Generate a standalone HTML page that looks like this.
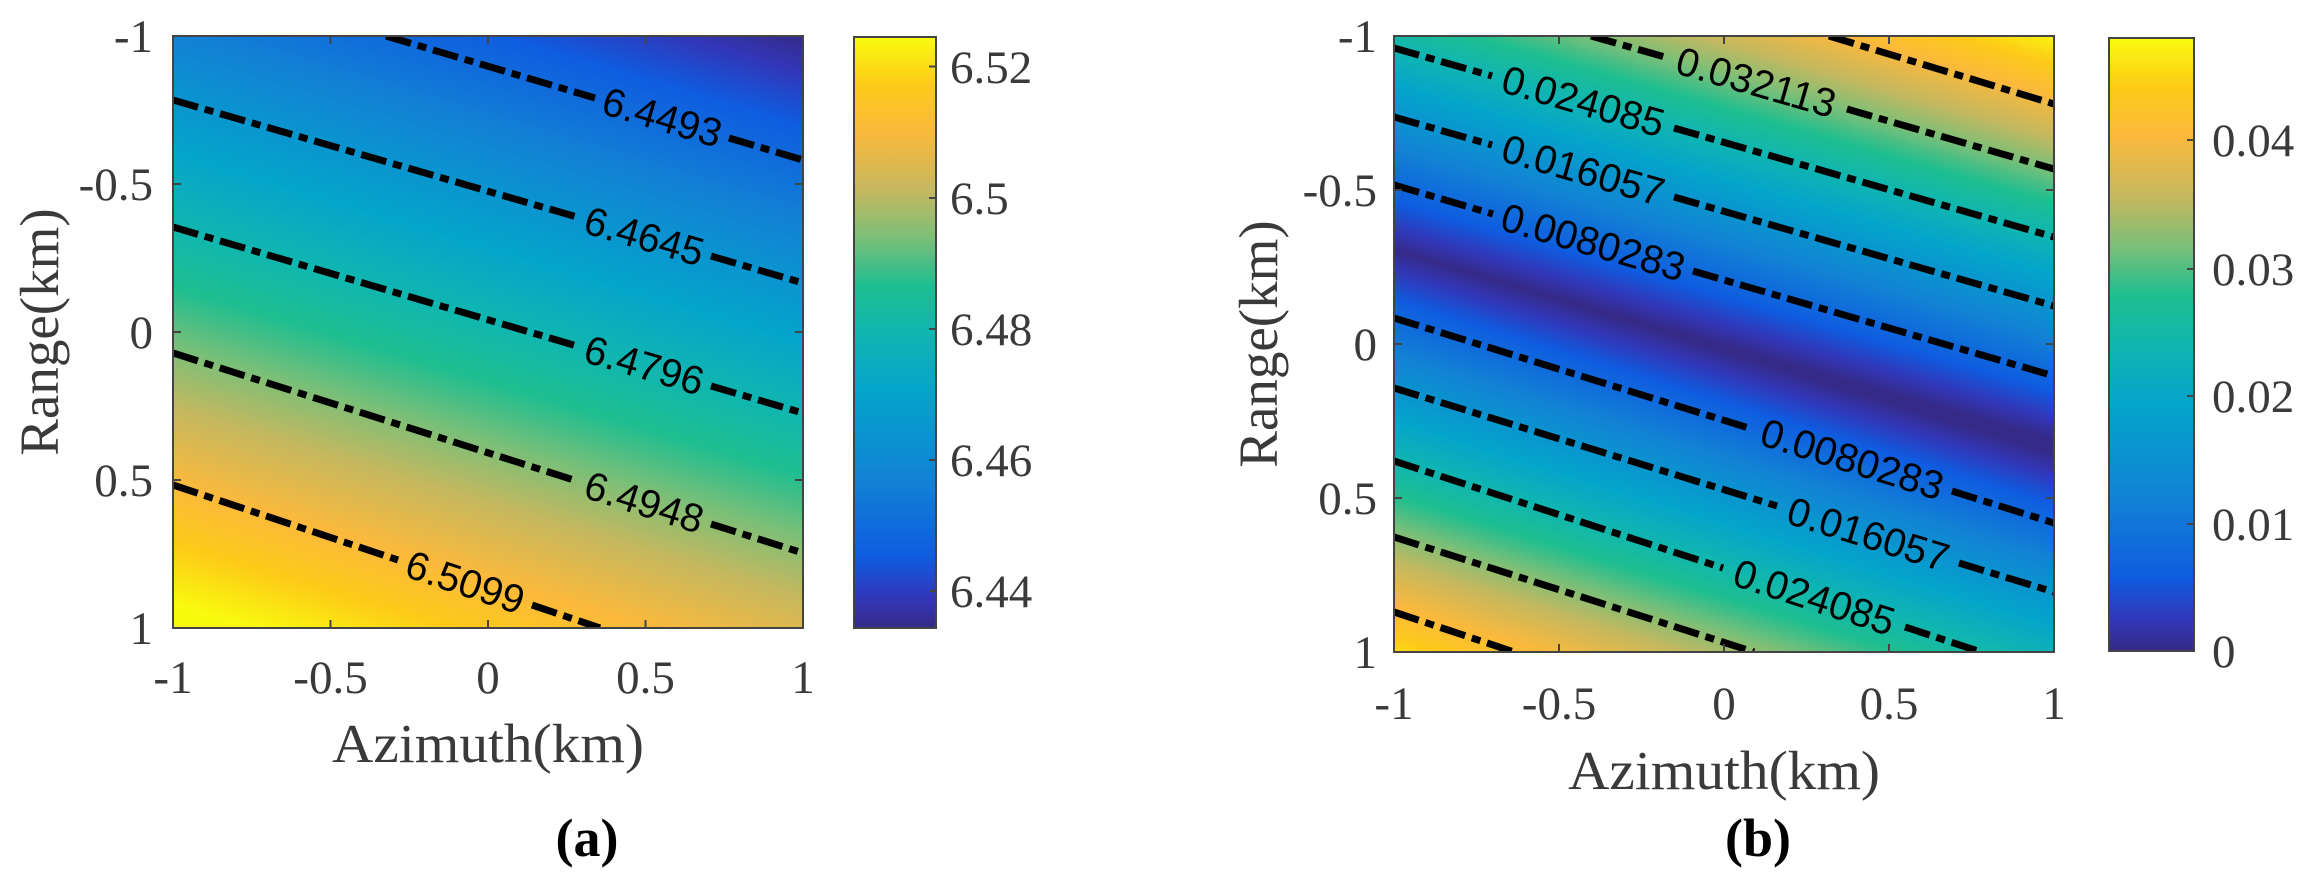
<!DOCTYPE html>
<html><head><meta charset="utf-8"><style>
html,body{margin:0;padding:0;background:#fff;}
svg{display:block;}
.t{font-family:"Liberation Serif",serif;font-size:47px;fill:#3a3a3a;}
.al{font-family:"Liberation Serif",serif;font-size:55px;fill:#3a3a3a;}
.cl{font-family:"Liberation Sans",sans-serif;font-size:40px;fill:#000;}
.cap{font-family:"Liberation Serif",serif;font-size:54px;font-weight:bold;fill:#000;}
.c{stroke:#000;stroke-width:7;fill:none;stroke-dasharray:26 7 9 7;}
.fr{fill:none;stroke:#444;stroke-width:2;}
.tk{stroke:#444;stroke-width:2;}
</style></head><body>
<svg width="2307" height="887" viewBox="0 0 2307 887" xmlns="http://www.w3.org/2000/svg">
<defs>
<linearGradient id="ga" gradientUnits="userSpaceOnUse" x1="173" y1="-154" x2="-36" y2="543">
<stop offset="0" stop-color="#352a87"/><stop offset="0.05" stop-color="#3236b8"/><stop offset="0.12" stop-color="#0f5ce0"/><stop offset="0.25" stop-color="#1282d4"/><stop offset="0.40" stop-color="#04a4cb"/><stop offset="0.50" stop-color="#10b6b0"/><stop offset="0.58" stop-color="#1ebe90"/><stop offset="0.66" stop-color="#7bbf78"/><stop offset="0.74" stop-color="#c5b85f"/><stop offset="0.84" stop-color="#fbb93c"/><stop offset="0.92" stop-color="#fdcb18"/><stop offset="1" stop-color="#f9fb0e"/>
</linearGradient>
<linearGradient id="gbu" gradientUnits="userSpaceOnUse" x1="1394" y1="251" x2="1502.6" y2="-127.4">
<stop offset="0" stop-color="#352a87"/><stop offset="0.05" stop-color="#3236b8"/><stop offset="0.12" stop-color="#0f5ce0"/><stop offset="0.25" stop-color="#1282d4"/><stop offset="0.40" stop-color="#04a4cb"/><stop offset="0.50" stop-color="#10b6b0"/><stop offset="0.58" stop-color="#1ebe90"/><stop offset="0.66" stop-color="#7bbf78"/><stop offset="0.74" stop-color="#c5b85f"/><stop offset="0.84" stop-color="#fbb93c"/><stop offset="0.92" stop-color="#fdcb18"/><stop offset="1" stop-color="#f9fb0e"/>
</linearGradient>
<linearGradient id="gbl" gradientUnits="userSpaceOnUse" x1="1394" y1="249" x2="1273.9" y2="636.5">
<stop offset="0" stop-color="#352a87"/><stop offset="0.05" stop-color="#3236b8"/><stop offset="0.12" stop-color="#0f5ce0"/><stop offset="0.25" stop-color="#1282d4"/><stop offset="0.40" stop-color="#04a4cb"/><stop offset="0.50" stop-color="#10b6b0"/><stop offset="0.58" stop-color="#1ebe90"/><stop offset="0.66" stop-color="#7bbf78"/><stop offset="0.74" stop-color="#c5b85f"/><stop offset="0.84" stop-color="#fbb93c"/><stop offset="0.92" stop-color="#fdcb18"/><stop offset="1" stop-color="#f9fb0e"/>
</linearGradient>
<linearGradient id="gc" x1="0" y1="1" x2="0" y2="0">
<stop offset="0" stop-color="#352a87"/><stop offset="0.05" stop-color="#3236b8"/><stop offset="0.12" stop-color="#0f5ce0"/><stop offset="0.25" stop-color="#1282d4"/><stop offset="0.40" stop-color="#04a4cb"/><stop offset="0.50" stop-color="#10b6b0"/><stop offset="0.58" stop-color="#1ebe90"/><stop offset="0.66" stop-color="#7bbf78"/><stop offset="0.74" stop-color="#c5b85f"/><stop offset="0.84" stop-color="#fbb93c"/><stop offset="0.92" stop-color="#fdcb18"/><stop offset="1" stop-color="#f9fb0e"/>
</linearGradient>
<clipPath id="ca"><rect x="173" y="36" width="630" height="592"/></clipPath>
<clipPath id="cb"><rect x="1394" y="36" width="660" height="616"/></clipPath>
</defs>

<!-- Panel a -->
<rect x="173" y="36" width="630" height="592" fill="url(#ga)"/>
<g clip-path="url(#ca)">
<path class="c" d="M386,36L595,98M729,138L803,160"/>
<path class="c" d="M173,100L577,217M711,256L803,283"/>
<path class="c" d="M173,227L577,346M711,386L803,413"/>
<path class="c" d="M173,353L577,481M711,524L803,553"/>
<path class="c" d="M173,485L398,560M532,605L600,628"/>
</g>
<g class="cl" text-anchor="middle" dominant-baseline="central">
<text transform="translate(662,118) rotate(16.5)">6.4493</text>
<text transform="translate(644,237) rotate(16.2)">6.4645</text>
<text transform="translate(644,366) rotate(16.4)">6.4796</text>
<text transform="translate(644,503) rotate(17.6)">6.4948</text>
<text transform="translate(465,583) rotate(18.5)">6.5099</text>
</g>
<rect class="fr" x="173" y="36" width="630" height="592"/>
<path class="tk" d="M330.5,628v-8M488,628v-8M645.5,628v-8M330.5,36v8M488,36v8M645.5,36v8M173,184h8M173,332h8M173,480h8M803,184h-8M803,332h-8M803,480h-8"/>
<g class="t" text-anchor="end">
<text x="153" y="52">-1</text><text x="153" y="200">-0.5</text><text x="153" y="348">0</text><text x="153" y="496">0.5</text><text x="153" y="644">1</text>
</g>
<g class="t" text-anchor="middle">
<text x="173" y="693">-1</text><text x="330.5" y="693">-0.5</text><text x="488" y="693">0</text><text x="645.5" y="693">0.5</text><text x="803" y="693">1</text>
</g>
<text class="al" x="488" y="762" text-anchor="middle" textLength="312" lengthAdjust="spacingAndGlyphs">Azimuth(km)</text>
<text class="al" transform="translate(58,332) rotate(-90)" text-anchor="middle">Range(km)</text>
<rect x="854" y="37" width="82" height="591" fill="url(#gc)"/>
<rect class="fr" x="854" y="37" width="82" height="591"/>
<path class="tk" d="M936,66.5h-7M936,198h-7M936,329h-7M936,460h-7M936,591h-7"/>
<g class="t">
<text x="950" y="83">6.52</text><text x="950" y="214">6.5</text><text x="950" y="345">6.48</text><text x="950" y="476">6.46</text><text x="950" y="607">6.44</text>
</g>
<text class="cap" x="587" y="856" text-anchor="middle">(a)</text>

<!-- Panel b -->
<g clip-path="url(#cb)">
<polygon points="1394,248 2060,446 2060,660 1394,660" fill="url(#gbl)"/>
<polygon points="1394,30 2060,30 2060,449.5 1394,251.5" fill="url(#gbu)"/>
<path class="c" d="M1829,36L2054,104"/>
<path class="c" d="M1591,36L1665,57M1847,109L2054,169"/>
<path class="c" d="M1394,48L1492,76M1674,128L2054,237"/>
<path class="c" d="M1394,117L1492,145M1674,197L2054,306"/>
<path class="c" d="M1394,185L1493,214M1693,271L2054,376"/>
<path class="c" d="M1394,318L1752,429M1952,491L2054,523"/>
<path class="c" d="M1394,388L1777,506M1959,563L2054,592"/>
<path class="c" d="M1394,461L1723,568M1905,627L1981,652"/>
<path class="c" d="M1394,537L1754,652"/>
<path class="c" d="M1394,612L1514,652"/>
</g>
<g class="cl" text-anchor="middle" dominant-baseline="central">
<text transform="translate(1756,83) rotate(16)">0.032113</text>
<text transform="translate(1583,102) rotate(16)">0.024085</text>
<text transform="translate(1583,171) rotate(16)">0.016057</text>
<text transform="translate(1593,243) rotate(16.1)">0.0080283</text>
<text transform="translate(1852,460) rotate(17.3)">0.0080283</text>
<text transform="translate(1868,535) rotate(17.2)">0.016057</text>
<text transform="translate(1814,598) rotate(18)">0.024085</text>
</g>
<rect class="fr" x="1394" y="36" width="660" height="616"/>
<path class="tk" d="M1559,652v-8M1724,652v-8M1889,652v-8M1559,36v8M1724,36v8M1889,36v8M1394,190h8M1394,344h8M1394,498h8M2054,190h-8M2054,344h-8M2054,498h-8"/>
<g class="t" text-anchor="end">
<text x="1377" y="52">-1</text><text x="1377" y="206">-0.5</text><text x="1377" y="360">0</text><text x="1377" y="514">0.5</text><text x="1377" y="668">1</text>
</g>
<g class="t" text-anchor="middle">
<text x="1394" y="719">-1</text><text x="1559" y="719">-0.5</text><text x="1724" y="719">0</text><text x="1889" y="719">0.5</text><text x="2054" y="719">1</text>
</g>
<text class="al" x="1724" y="789" text-anchor="middle" textLength="312" lengthAdjust="spacingAndGlyphs">Azimuth(km)</text>
<text class="al" transform="translate(1277,344) rotate(-90)" text-anchor="middle">Range(km)</text>
<rect x="2109" y="38" width="85" height="613" fill="url(#gc)"/>
<rect class="fr" x="2109" y="38" width="85" height="613"/>
<path class="tk" d="M2194,140h-7M2194,269h-7M2194,396h-7M2194,524h-7"/>
<g class="t">
<text x="2212" y="156">0.04</text><text x="2212" y="285">0.03</text><text x="2212" y="412">0.02</text><text x="2212" y="540">0.01</text><text x="2212" y="667">0</text>
</g>
<text class="cap" x="1758" y="856" text-anchor="middle">(b)</text>
</svg>
</body></html>
